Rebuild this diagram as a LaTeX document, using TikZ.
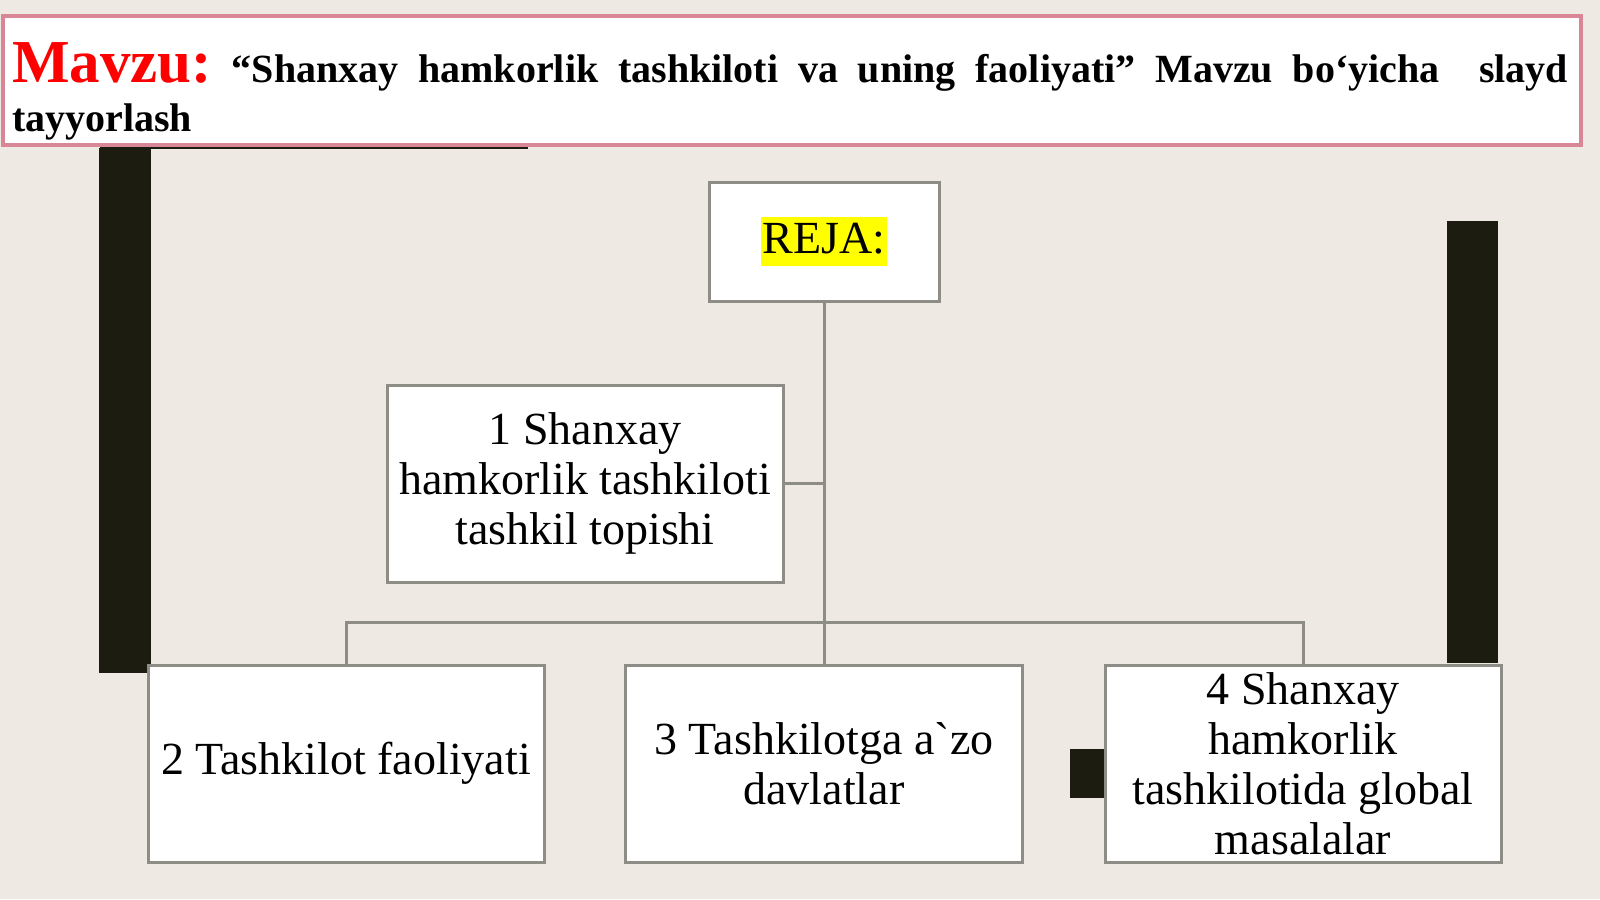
\documentclass[tikz,border=0pt]{standalone}
\usepackage{fontspec}
\setmainfont{Liberation Serif}
\definecolor{bg}{HTML}{EEEAE3}
\definecolor{bargray}{HTML}{8D8D86}
\definecolor{barblack}{HTML}{1C1C10}
\definecolor{pinkb}{HTML}{D98796}
\definecolor{hl}{HTML}{FFFF00}
\tikzset{
  boxnode/.style={draw=bargray, line width=3pt, fill=white, align=center, inner sep=0pt,
    font=\fontsize{46}{50}\selectfont},
  conn/.style={draw=bargray, line width=3pt},
  hdrbox/.style={draw=pinkb, line width=4pt, fill=white, inner sep=0pt},
  blackbar/.style={fill=barblack}
}
\begin{document}
\begin{tikzpicture}[x=1pt,y=-1pt]
\useasboundingbox[fill=bg] (0,0) rectangle (1600,899);
% decorative dark bars
\fill[blackbar] (99,148) rectangle (151,673);
\fill[blackbar] (1447,221) rectangle (1498,663);
\fill[blackbar] (1070,749) rectangle (1106,798);
\fill[blackbar] (100,145.5) rectangle (528,148.5);
% header
\node[hdrbox, minimum width=1578pt, minimum height=129pt] (hdr) at (792,80.5) {};
\node[anchor=base west, inner sep=0pt] (t1) at (12,82)
  {\hbox to 1556pt{\bfseries\fontsize{40}{44}\selectfont
   \textcolor{red}{\fontsize{61}{62}\selectfont Mavzu:}\hfill “Shanxay\hfill hamkorlik\hfill tashkiloti\hfill va\hfill uning\hfill faoliyati”\hfill Mavzu\hfill bo‘yicha\hfill\hfill slayd}};
\node[anchor=base west, inner sep=0pt] (t2) at (12,131)
  {\bfseries\fontsize{40}{44}\selectfont tayyorlash};
% boxes
\node[boxnode, minimum width=230pt, minimum height=119pt] (reja) at (824,241.5)
  {\setlength{\fboxsep}{1.5pt}\colorbox{hl}{\rule[-0.24em]{0pt}{1.0em}REJA:}};
\node[boxnode, minimum width=396pt, minimum height=197pt] (box1) at (585,483.5)
  {1 Shanxay\\hamkorlik tashkiloti\\tashkil topishi};
\node[boxnode, minimum width=396pt, minimum height=197pt] (box2) at (346,763.5)
  {2 Tashkilot faoliyati};
\node[boxnode, minimum width=397pt, minimum height=197pt] (box3) at (824,763.5)
  {3 Tashkilotga a\textasciigrave zo\\davlatlar};
\node[boxnode, minimum width=396pt, minimum height=197pt] (box4) at (1303,763.5)
  {4 Shanxay\\hamkorlik\\tashkilotida global\\masalalar};
% connectors
\coordinate (barpt) at (824,622);
\draw[conn] (reja.south) -- (box3.north);
\draw[conn] (box1.east) -- (box1.east -| reja.south);
\draw[conn] (box2.north) -- (box2.north |- barpt) -- (box4.north |- barpt) -- (box4.north);
\end{tikzpicture}
\end{document}
